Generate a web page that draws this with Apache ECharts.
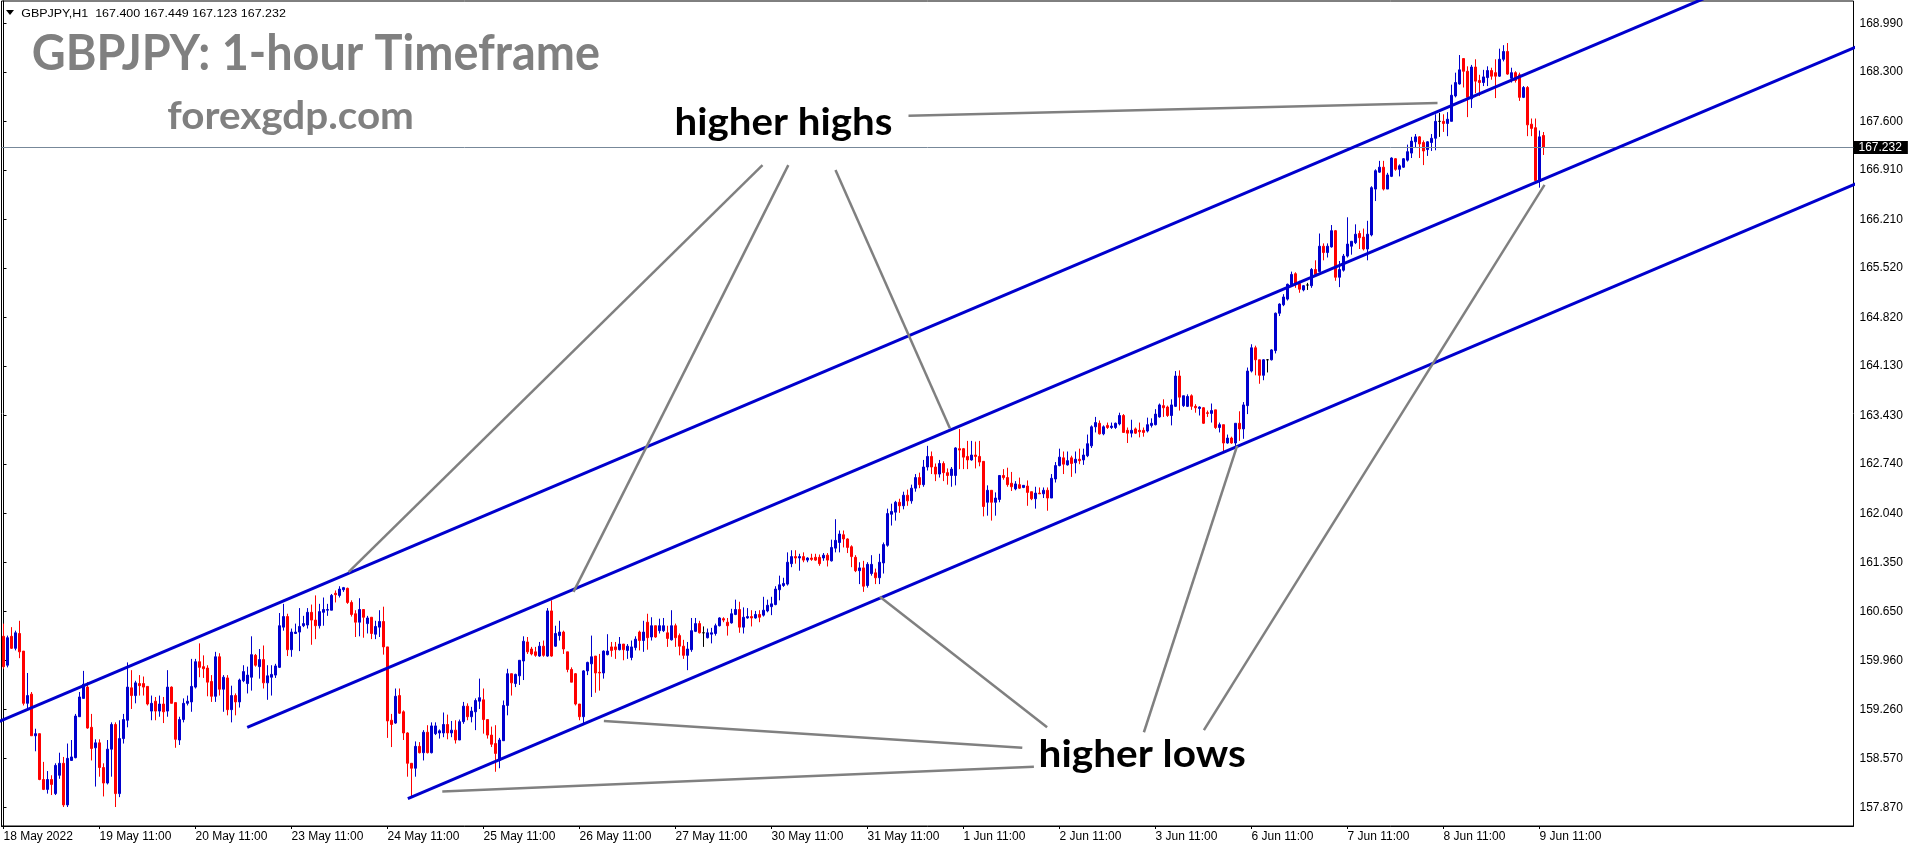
<!DOCTYPE html>
<html><head><meta charset="utf-8">
<script src="https://cdn.jsdelivr.net/npm/echarts@6/dist/echarts.min.js"></script>
<style>html,body{margin:0;padding:0;background:#fff;}#c{width:1916px;height:850px;}</style>
</head><body><div id="c"></div>
<script>
// ---- tick labels (one every 24 hourly bars) ----
const tickLabels = ['18 May 2022','19 May 11:00','20 May 11:00','23 May 11:00','24 May 11:00','25 May 11:00','26 May 11:00','27 May 11:00','30 May 11:00','31 May 11:00','1 Jun 11:00','2 Jun 11:00','3 Jun 11:00','6 Jun 11:00','7 Jun 11:00','8 Jun 11:00','9 Jun 11:00'];
const yTicks = [157.87,158.57,159.26,159.96,160.65,161.35,162.04,162.74,163.43,164.13,164.82,165.52,166.21,166.91,167.60,168.30,168.99];
const slotCount = 463;   // bars + empty right shift
const header = 'GBPJPY,H1  167.400 167.449 167.123 167.232';
const lastPrice = 167.232;
// ---- hourly candles: [open, close, low, high] ----
const ohlc = [
[160.30,159.87,159.84,160.48],[159.89,160.28,159.86,160.31],[160.30,160.13,160.12,160.43],[160.13,160.35,160.10,160.38],[160.34,160.08,159.99,160.52],
[160.09,159.35,159.32,160.09],[159.35,159.46,159.25,159.78],[159.48,158.89,158.89,159.51],[158.89,158.92,158.67,158.99],[158.92,158.27,158.26,158.92],
[158.27,158.13,158.12,158.52],[158.13,158.27,158.07,158.39],[158.27,158.20,158.05,158.33],[158.07,158.47,158.05,158.50],[158.33,158.50,158.28,158.65],
[158.50,157.91,157.88,158.59],[157.91,158.57,157.88,158.78],[158.54,158.59,158.54,158.83],[158.58,159.17,158.57,159.20],[159.16,159.44,159.16,159.51],
[159.42,159.62,159.42,159.81],[159.58,159.00,158.99,159.65],[159.01,158.71,158.54,159.20],[158.72,158.79,158.17,158.84],[158.79,158.44,158.31,158.84],
[158.44,158.22,158.03,158.50],[158.22,158.70,158.20,158.83],[158.70,159.05,158.31,159.08],[159.05,158.07,157.88,159.08],[158.07,158.85,158.02,159.11],
[158.85,159.12,158.78,159.20],[159.11,159.58,159.01,159.93],[159.57,159.46,159.27,159.82],[159.46,159.64,159.35,159.67],[159.63,159.60,159.46,159.75],
[159.63,159.58,159.46,159.73],[159.59,159.34,159.32,159.59],[159.24,159.35,159.11,159.46],[159.38,159.24,159.11,159.44],[159.24,159.34,159.16,159.46],
[159.34,159.23,159.07,159.44],[159.24,159.58,159.16,159.82],[159.58,159.35,159.35,159.59],[159.36,158.84,158.72,159.36],[158.83,159.12,158.76,159.16],
[159.12,159.35,159.08,159.42],[159.35,159.38,159.32,159.46],[159.37,159.59,159.23,159.98],[159.58,159.94,159.56,159.98],[159.94,159.86,159.72,160.20],
[159.87,159.84,159.71,160.03],[159.85,159.65,159.45,159.89],[159.66,159.45,159.37,159.75],[159.45,160.01,159.37,160.08],[160.01,159.55,159.46,160.06],
[159.55,159.72,159.23,159.75],[159.71,159.26,159.18,159.75],[159.26,159.46,159.08,159.60],[159.46,159.37,159.18,159.49],[159.37,159.68,159.29,159.70],
[159.67,159.80,159.65,159.89],[159.63,159.75,159.49,159.87],[159.72,160.04,159.53,160.30],[160.03,159.89,159.87,160.05],[159.87,159.97,159.70,160.12],
[159.97,159.64,159.56,160.17],[159.64,159.74,159.40,159.89],[159.72,159.76,159.46,159.89],[159.75,159.88,159.71,159.91],[159.86,160.45,159.85,160.63],
[160.43,160.58,160.38,160.76],[160.58,160.11,160.02,160.62],[160.11,160.36,160.01,160.41],[160.34,160.36,160.34,160.48],[160.36,160.44,160.09,160.70],
[160.45,160.48,160.43,160.59],[160.46,160.64,160.41,160.70],[160.64,160.53,160.18,160.75],[160.53,160.45,160.26,160.88],[160.45,160.65,160.41,160.76],
[160.64,160.68,160.45,160.85],[160.67,160.68,160.59,160.76],[160.67,160.88,160.67,160.90],[160.91,160.89,160.78,160.95],[160.88,160.97,160.85,161.01],
[160.96,160.99,160.93,161.00],[160.98,160.78,160.76,160.99],[160.78,160.61,160.58,160.81],[160.62,160.50,160.29,160.67],[160.50,160.68,160.30,160.84],
[160.68,160.57,160.28,160.68],[160.48,160.56,160.34,160.59],[160.57,160.34,160.26,160.57],[160.33,160.44,160.26,160.52],[160.43,160.51,160.29,160.67],
[160.51,160.15,160.04,160.72],[160.15,159.10,158.86,160.15],[159.11,159.05,158.73,159.20],[159.07,159.45,159.06,159.56],[159.46,159.21,159.20,159.56],
[159.23,158.93,158.83,159.25],[158.93,158.50,158.31,158.94],[158.50,158.43,158.02,158.50],[158.43,158.74,158.31,158.81],[158.74,158.65,158.64,158.80],
[158.65,158.94,158.54,158.97],[158.94,158.65,158.64,159.04],[158.65,159.03,158.64,159.08],[158.92,159.03,158.90,159.08],[158.93,158.96,158.85,158.98],
[158.93,159.05,158.87,159.22],[159.05,158.93,158.84,159.19],[158.93,158.97,158.87,159.10],[158.97,158.83,158.78,159.11],[158.83,159.09,158.83,159.12],
[159.09,159.31,159.06,159.37],[159.31,159.16,159.11,159.35],[159.16,159.24,159.08,159.30],[159.23,159.39,158.97,159.42],[159.38,159.43,159.27,159.70],
[159.40,159.12,158.92,159.56],[159.12,158.90,158.85,159.12],[158.90,158.77,158.73,159.02],[158.78,158.64,158.38,159.04],[158.54,158.83,158.43,158.86],
[158.82,159.32,158.82,159.39],[159.32,159.77,159.18,159.84],[159.77,159.64,159.46,159.77],[159.63,159.76,159.58,159.77],[159.74,159.96,159.61,159.96],
[159.95,160.23,159.68,160.30],[160.22,160.08,160.05,160.29],[160.12,160.05,160.03,160.15],[160.08,160.03,160.01,160.15],[160.02,160.16,160.01,160.22],
[160.16,160.03,160.01,160.24],[160.02,160.66,160.01,160.70],[160.66,160.02,160.01,160.81],[160.16,160.34,160.15,160.45],[160.31,160.36,160.24,160.52],
[160.36,160.12,160.05,160.38],[160.08,159.83,159.79,160.08],[159.83,159.65,159.65,159.86],[159.77,159.34,159.32,159.78],[159.34,159.16,159.11,159.34],
[159.16,159.81,159.06,159.82],[159.81,159.93,159.75,159.94],[159.91,160.01,159.44,160.31],[160.02,159.78,159.50,160.02],[159.79,159.78,159.53,160.05],
[159.78,160.09,159.70,160.10],[160.04,160.09,160.03,160.33],[160.15,160.10,160.01,160.22],[160.15,160.11,159.98,160.22],[160.11,160.19,160.10,160.29],
[160.19,160.11,159.96,160.19],[160.10,160.16,159.98,160.19],[160.00,160.15,159.96,160.24],[160.14,160.26,160.10,160.30],[160.36,160.24,160.10,160.38],
[160.24,160.36,160.08,160.52],[160.50,160.28,160.11,160.62],[160.29,160.45,160.24,160.57],[160.45,160.29,160.28,160.45],[160.38,160.45,160.34,160.55],
[160.38,160.45,160.36,160.56],[160.35,160.27,160.15,160.45],[160.25,160.45,160.24,160.67],[160.45,160.28,160.15,160.48],[160.31,160.16,160.03,160.34],
[160.16,160.03,159.98,160.25],[160.03,160.12,159.82,160.22],[160.11,160.38,160.08,160.56],[160.37,160.48,160.36,160.56],[160.48,160.35,160.34,160.52],
[160.35,160.35,160.15,160.44],[160.28,160.35,160.27,160.41],[160.33,160.35,160.20,160.42],[160.34,160.45,160.31,160.48],[160.45,160.56,160.44,160.57],
[160.55,160.53,160.50,160.57],[160.50,160.45,160.31,160.56],[160.49,160.62,160.48,160.69],[160.61,160.68,160.60,160.82],[160.68,160.43,160.35,160.79],
[160.43,160.57,160.34,160.71],[160.56,160.58,160.55,160.70],[160.58,160.56,160.44,160.67],[160.56,160.61,160.55,160.66],[160.61,160.57,160.50,160.67],
[160.60,160.67,160.58,160.86],[160.66,160.74,160.64,160.82],[160.72,160.76,160.60,160.86],[160.75,160.97,160.74,161.01],[160.96,161.03,160.81,161.16],
[161.02,161.05,161.00,161.13],[161.04,161.35,161.02,161.49],[161.33,161.43,161.28,161.52],[161.43,161.41,161.33,161.52],[161.41,161.43,161.23,161.47],
[161.43,161.38,161.35,161.49],[161.38,161.41,161.35,161.42],[161.41,161.39,161.37,161.47],[161.42,161.38,161.37,161.47],[161.42,161.33,161.30,161.46],
[161.41,161.45,161.37,161.48],[161.45,161.38,161.29,161.48],[161.37,161.56,161.36,161.67],[161.55,161.66,161.49,161.96],[161.63,161.75,161.49,161.80],
[161.74,161.68,161.56,161.80],[161.68,161.56,161.48,161.69],[161.57,161.43,161.28,161.59],[161.42,161.23,161.21,161.45],[161.23,161.27,161.04,161.35],
[161.27,161.01,160.93,161.37],[161.02,161.32,160.99,161.35],[161.19,161.32,161.16,161.45],[161.20,161.13,161.04,161.26],[161.13,161.35,161.04,161.47],
[161.34,161.60,161.19,161.63],[161.59,162.04,161.57,162.11],[162.03,162.07,161.87,162.18],[162.06,162.20,161.94,162.22],[162.20,162.15,162.05,162.25],
[162.15,162.30,162.10,162.35],[162.30,162.22,162.15,162.38],[162.22,162.40,162.18,162.45],[162.40,162.55,162.35,162.60],[162.55,162.45,162.40,162.62],
[162.45,162.70,162.42,162.80],[162.70,162.85,162.65,163.00],[162.85,162.70,162.60,162.92],[162.70,162.60,162.50,162.75],[162.60,162.75,162.55,162.80],
[162.75,162.62,162.50,162.78],[162.62,162.58,162.45,162.68],[162.58,162.67,162.42,162.70],[162.58,162.97,162.44,162.98],[162.96,162.94,162.67,163.24],
[162.96,162.84,162.67,162.97],[162.85,162.80,162.67,163.07],[162.80,162.87,162.79,163.07],[162.87,162.85,162.68,163.06],[162.85,162.77,162.71,163.07],
[162.78,162.14,162.00,162.78],[162.20,162.37,162.01,162.44],[162.37,162.20,161.94,162.37],[162.20,162.26,162.01,162.34],[162.24,162.58,162.20,162.58],
[162.58,162.55,162.52,162.67],[162.55,162.45,162.42,162.69],[162.47,162.42,162.36,162.63],[162.39,162.46,162.37,162.50],[162.45,162.40,162.39,162.55],
[162.41,162.44,162.40,162.44],[162.43,162.34,162.15,162.51],[162.35,162.25,162.23,162.35],[162.25,162.33,162.11,162.42],[162.33,162.32,162.32,162.41],
[162.32,162.37,162.26,162.41],[162.37,162.26,162.08,162.41],[162.26,162.54,162.26,162.60],[162.53,162.72,162.48,162.77],[162.72,162.84,162.71,162.96],
[162.83,162.74,162.60,162.92],[162.73,162.79,162.72,162.92],[162.83,162.75,162.56,162.86],[162.76,162.81,162.61,162.92],[162.81,162.79,162.74,162.96],
[162.80,162.87,162.73,162.96],[162.86,163.03,162.84,163.16],[163.00,163.27,162.97,163.29],[163.27,163.33,163.19,163.41],[163.32,163.17,163.16,163.36],
[163.17,163.27,163.15,163.29],[163.29,163.26,163.24,163.33],[163.26,163.28,163.24,163.33],[163.26,163.32,163.24,163.33],[163.31,163.43,163.29,163.47],
[163.43,163.19,163.19,163.45],[163.22,163.18,163.04,163.26],[163.18,163.22,163.12,163.37],[163.24,163.18,163.17,163.26],[163.22,163.20,163.12,163.33],
[163.22,163.19,163.13,163.26],[163.21,163.30,163.19,163.40],[163.29,163.32,163.26,163.39],[163.30,163.45,163.29,163.52],[163.41,163.58,163.40,163.60],
[163.57,163.54,163.41,163.66],[163.55,163.43,163.41,163.57],[163.43,163.58,163.29,163.66],[163.56,163.99,163.55,164.06],[163.99,163.69,163.50,164.07],
[163.57,163.71,163.55,163.71],[163.56,163.70,163.55,163.73],[163.71,163.56,163.51,163.73],[163.56,163.54,163.47,163.59],[163.53,163.55,163.43,163.56],
[163.54,163.32,163.31,163.55],[163.47,163.46,163.41,163.50],[163.46,163.50,163.33,163.60],[163.51,163.26,163.24,163.51],[163.26,163.30,163.19,163.33],
[163.30,163.04,162.91,163.30],[163.04,163.11,163.03,163.16],[163.11,163.04,163.03,163.13],[163.04,163.32,163.00,163.32],[163.32,163.24,163.07,163.49],
[163.24,163.58,163.10,163.62],[163.57,164.06,163.45,164.11],[164.06,164.39,164.04,164.44],[164.39,164.22,164.00,164.42],[164.22,164.00,163.88,164.22],
[164.00,164.22,163.93,164.23],[164.22,164.22,164.04,164.23],[164.22,164.36,164.21,164.37],[164.35,164.88,164.31,164.89],[164.88,165.01,164.84,165.02],
[165.00,165.11,164.98,165.15],[165.08,165.29,165.06,165.30],[165.28,165.43,165.27,165.47],[165.44,165.29,165.24,165.46],[165.30,165.22,165.17,165.34],
[165.21,165.27,165.19,165.28],[165.28,165.28,165.21,165.31],[165.27,165.50,165.24,165.52],[165.50,165.43,165.42,165.63],[165.47,165.83,165.46,166.01],
[165.83,165.74,165.63,165.87],[165.74,165.83,165.67,165.87],[165.82,166.05,165.81,166.13],[166.05,165.39,165.34,166.06],[165.39,165.50,165.25,165.62],
[165.49,165.69,165.47,165.72],[165.69,165.86,165.67,166.24],[165.83,165.90,165.71,165.90],[165.88,166.00,165.86,166.14],[166.01,165.95,165.79,166.05],
[165.96,165.79,165.77,166.08],[165.79,166.00,165.63,166.19],[165.99,166.66,165.97,166.68],[166.64,166.90,166.47,166.92],[166.88,166.95,166.87,167.04],
[166.95,166.64,166.62,167.04],[166.64,166.84,166.64,166.87],[166.82,167.08,166.81,167.09],[167.07,166.92,166.90,167.08],[166.92,166.97,166.82,166.99],
[166.95,167.07,166.94,167.08],[167.05,167.17,167.03,167.27],[167.15,167.32,167.08,167.38],[167.31,167.38,167.23,167.42],[167.38,167.28,167.08,167.39],
[167.30,167.18,166.98,167.33],[167.20,167.31,167.11,167.32],[167.30,167.36,167.18,167.42],[167.36,167.60,167.19,167.70],[167.60,167.60,167.38,167.72],
[167.60,167.57,167.45,167.70],[167.57,167.63,167.39,167.73],[167.60,167.97,167.60,168.12],[167.96,168.15,167.94,168.29],[168.13,168.33,168.12,168.54],
[168.49,168.31,168.08,168.49],[168.31,167.94,167.66,168.38],[167.92,168.37,167.79,168.40],[168.37,168.17,168.00,168.48],[168.18,168.15,167.96,168.26],
[168.15,168.23,168.10,168.33],[168.22,168.32,168.10,168.38],[168.32,168.24,168.19,168.36],[168.29,168.24,167.93,168.48],[168.24,168.48,168.23,168.63],
[168.48,168.59,168.45,168.68],[168.59,168.27,168.26,168.71],[168.21,168.29,168.15,168.36],[168.29,168.18,168.15,168.31],[168.26,167.94,167.89,168.29],
[167.94,168.08,167.93,168.10],[168.08,167.55,167.39,168.10],[167.56,167.50,167.39,167.64],[167.51,166.76,166.75,167.64],[166.75,167.38,166.66,167.47],
[167.400,167.232,167.123,167.449]
];
// ---- channel lines: [barIndex, price] end points ----
const upperLine  = [[-2,159.07],[470,170.42]];
const middleLine = [[60.93,159.01],[470,168.82]];
const lowerLine  = [[101.08,158.00],[470,166.88]];
// ---- grey annotation lines: [barIndex, price] pairs ----
const highsLines = [
  [[189.75,166.98],[86.25,161.21]],
  [[196.2,166.98],[142.5,160.93]],
  [[208.0,166.91],[236.6,163.25]],
  [[226.25,167.68],[358.5,167.86]]
];
const lowsLines = [
  [[219.1,160.86],[260.9,159.01]],
  [[285.1,158.94],[308.4,163.00]],
  [[300.1,158.97],[385.25,166.70]],
  [[150.1,159.10],[254.7,158.72]],
  [[109.7,158.10],[257.6,158.45]]
];

const categories = [];
for (let i = 0; i < slotCount; i++) {
  categories.push(i % 24 === 0 && tickLabels[i / 24] ? tickLabels[i / 24] : '');
}
const BLUE = '#0000CD', RED = '#FF0000', GREY = '#808080';
const axisFont = {fontFamily: 'Liberation Sans', fontSize: 12, color: '#000'};

const lineSeries = (pts, color, width) => ({
  type: 'line', xAxisIndex: 1, yAxisIndex: 0, data: pts, symbol: 'none',
  lineStyle: {color: color, width: width}, silent: true, clip: true, z: 5
});

const series = [{
  type: 'candlestick', xAxisIndex: 0, yAxisIndex: 0,
  data: ohlc, barWidth: 2,
  itemStyle: {color: BLUE, color0: RED, borderColor: BLUE, borderColor0: RED, borderColorDoji: '#000', borderWidth: 1},
  markLine: {
    silent: true, symbol: ['none', 'none'], animation: false,
    lineStyle: {color: '#778899', width: 1, type: 'solid'},
    label: {show: true, position: 'end', distance: 0, formatter: () => lastPrice.toFixed(3),
      backgroundColor: '#000', color: '#fff', fontFamily: 'Liberation Sans', fontSize: 12,
      padding: [1, 6, 0, 5], lineHeight: 12},
    data: [{yAxis: lastPrice}]
  },
  z: 3
}];
[upperLine, middleLine, lowerLine].forEach(l => series.push(lineSeries(l, BLUE, 3)));
highsLines.concat(lowsLines).forEach(l => series.push(lineSeries(l, GREY, 2.5)));

// text placed by its ink box: left/right edge and baseline (pixels)
const mctx = document.createElement('canvas').getContext('2d');
function fitText(s, font, inkLeft, inkRight, baseline, fill) {
  mctx.font = font;
  mctx.textBaseline = 'middle';
  mctx.textAlign = 'left';
  const m = mctx.measureText(s);
  const ink = m.actualBoundingBoxLeft + m.actualBoundingBoxRight;
  const sx = (inkRight - inkLeft) / ink;
  const off = mctx.measureText('H').actualBoundingBoxDescent;
  return {
    type: 'text', x: inkLeft + m.actualBoundingBoxLeft * sx, y: baseline - off, scaleX: sx, z: 100, silent: true,
    style: {text: s, font: font, fill: fill, textAlign: 'left', textVerticalAlign: 'middle', align: 'left', verticalAlign: 'middle'}
  };
}

const chart = echarts.init(document.getElementById('c'), null, {renderer: 'canvas'});
chart.setOption({
  animation: false,
  backgroundColor: '#fff',
  grid: {left: 1.5, right: 62.5, top: 1, bottom: 24, show: true, borderColor: '#000', borderWidth: 1, backgroundColor: 'transparent'},
  xAxis: [{
    type: 'category', data: categories, boundaryGap: true,
    axisLine: {lineStyle: {color: '#000', width: 1}},
    axisTick: {show: true, alignWithLabel: true, length: 3, lineStyle: {color: '#000'},
      interval: (i) => categories[i] !== ''},
    axisLabel: Object.assign({interval: 0, align: 'left', margin: 5}, axisFont),
    splitLine: {show: false}
  }, {
    type: 'value', min: -0.5, max: slotCount - 0.5, show: false
  }],
  yAxis: [{
    type: 'value', position: 'right', min: 157.611, max: 169.306, scale: true,
    axisLine: {show: true, lineStyle: {color: '#000', width: 1}},
    axisTick: {show: true, length: 3, lineStyle: {color: '#000'}, customValues: yTicks},
    axisLabel: Object.assign({margin: 6, customValues: yTicks, formatter: v => v.toFixed(3)}, axisFont),
    splitLine: {show: false}
  }],
  series: series,
  graphic: [
    {type: 'polygon', shape: {points: [[6, 10], [14, 10], [10, 15]]}, style: {fill: '#000'}, silent: true},
    fitText(header, '11px "Liberation Sans"', 21.2, 285.7, 16.5, '#000'),
    fitText('GBPJPY: 1-hour Timeframe', 'bold 50px Lato', 32.7, 599.2, 70.2, '#808080'),
    fitText('forexgdp.com', 'bold 39px Lato', 167.3, 412.2, 129, '#808080'),
    fitText('higher highs', 'bold 38px Lato', 676.7, 891.7, 135, '#000'),
    fitText('higher lows', 'bold 38px Lato', 1040.7, 1245, 766.7, '#000')
  ]
});
</script>
</body></html>
